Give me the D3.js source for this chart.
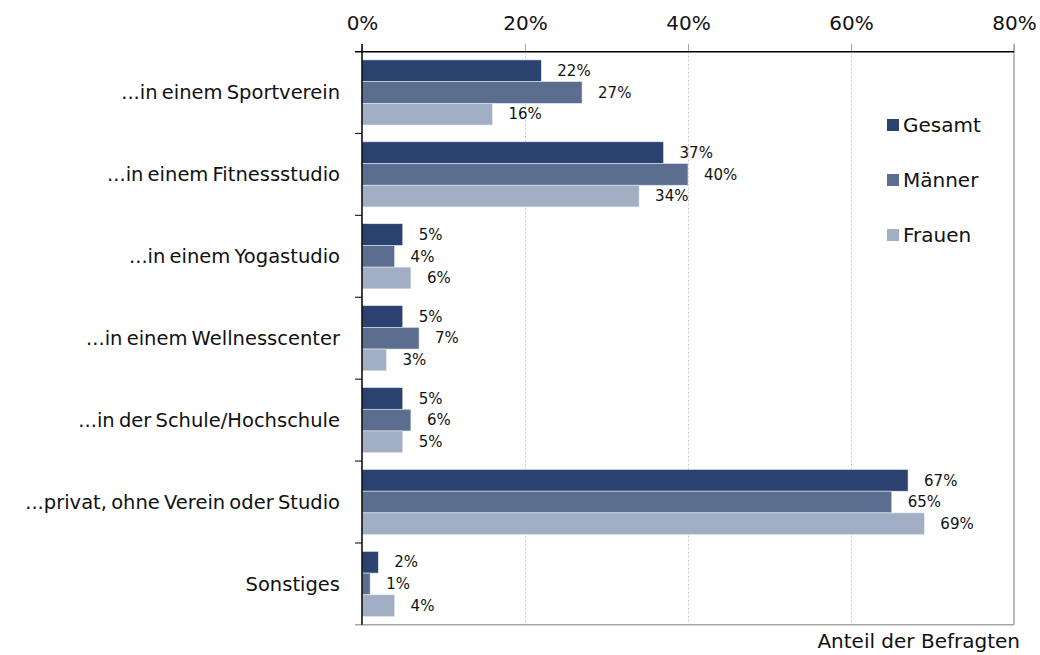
<!DOCTYPE html>
<html>
<head>
<meta charset="utf-8">
<script src="https://cdn.jsdelivr.net/npm/d3@7"></script>
<style>
  body { margin: 0; background: #fff; }
  text { font-family: "DejaVu Sans", "Liberation Sans", Arial, sans-serif; fill: #111; }
</style>
</head>
<body>
<div id="chart"></div>
<script>
// data
var categories = ["...in einem Sportverein", "...in einem Fitnessstudio", "...in einem Yogastudio",
    "...in einem Wellnesscenter", "...in der Schule/Hochschule", "...privat, ohne Verein oder Studio", "Sonstiges"];
var seriesNames = ["Gesamt", "Männer", "Frauen"];
var gesamt = [22, 37, 5, 5, 5, 67, 2];
var maenner = [27, 40, 4, 7, 6, 65, 1];
var frauen = [16, 34, 6, 3, 5, 69, 4];
var xTicks = [0, 20, 40, 60, 80];
var colors = ["#2b416f", "#5c6e8f", "#a1aec4"];

var allSeries = [gesamt, maenner, frauen];

var width = 1040, height = 655;
var svg = d3.select("#chart").append("svg")
    .attr("width", width)
    .attr("height", height);

// scales
var x = d3.scaleLinear().domain([0, 80]).range([362, 1014]);
var y = d3.scaleBand().domain(categories).range([51.7, 624.7]).paddingInner(0.205).paddingOuter(0.1);
var ySub = d3.scaleBand().domain(seriesNames).range([0, y.bandwidth()]);

// gridlines
svg.append("g")
    .selectAll("line")
    .data(xTicks.slice(1, -1))
    .enter().append("line")
    .attr("x1", d => x(d) + 0.5).attr("x2", d => x(d) + 0.5)
    .attr("y1", 51.7).attr("y2", 624.7)
    .attr("stroke", "#c8c8c8")
    .attr("stroke-dasharray", "2,2");

// right border and bottom line
svg.append("line")
    .attr("x1", x(80)).attr("x2", x(80))
    .attr("y1", 44).attr("y2", 624.7)
    .attr("stroke", "#a6a6a6").attr("stroke-width", 1.5);
svg.append("line")
    .attr("x1", 355).attr("x2", x(80))
    .attr("y1", 624.7).attr("y2", 624.7)
    .attr("stroke", "#a6a6a6").attr("stroke-width", 1.5);

// bars
var groups = svg.append("g").selectAll("g")
    .data(categories)
    .enter().append("g")
    .attr("transform", d => "translate(0," + y(d) + ")");

seriesNames.forEach(function (s, si) {
    groups.append("rect")
        .attr("x", x(0))
        .attr("y", ySub(s))
        .attr("width", (d, i) => x(allSeries[si][i]) - x(0))
        .attr("height", ySub.bandwidth())
        .attr("fill", colors[si])
        .attr("stroke", "#e4e8ef")
        .attr("stroke-width", 0.6);

    groups.append("text")
        .attr("x", (d, i) => x(allSeries[si][i]) + 16)
        .attr("y", ySub(s) + ySub.bandwidth() / 2)
        .attr("dy", "0.35em")
        .style("font-size", "15px")
        .text((d, i) => allSeries[si][i] + "%");
});

// top axis
var xAxis = svg.append("g")
    .attr("transform", "translate(0,51.7)")
    .call(d3.axisTop(x).tickValues(xTicks).tickFormat(d => d + "%").tickSize(8).tickPadding(14));
xAxis.select(".domain").remove();
xAxis.selectAll(".tick line").attr("stroke", "#a6a6a6");
xAxis.selectAll(".tick text")
    .style("font-size", "20px")
    .style("font-family", "DejaVu Sans, Liberation Sans, Arial, sans-serif")
    .attr("fill", "#111");
svg.append("line")
    .attr("x1", 355).attr("x2", x(80))
    .attr("y1", 51.7).attr("y2", 51.7)
    .attr("stroke", "#000").attr("stroke-width", 1.5);

// left axis: ticks at band boundaries
var boundaries = categories.map(c => y(c) - y.step() * y.paddingInner() / 2).slice(1);
svg.append("g").selectAll("line")
    .data(boundaries)
    .enter().append("line")
    .attr("x1", 355).attr("x2", x(0))
    .attr("y1", d => d).attr("y2", d => d)
    .attr("stroke", "#000");
svg.append("line")
    .attr("x1", x(0)).attr("x2", x(0))
    .attr("y1", 44).attr("y2", 624.7)
    .attr("stroke", "#000").attr("stroke-width", 1.5);

svg.append("g").selectAll("text")
    .data(categories)
    .enter().append("text")
    .attr("x", 340)
    .attr("y", d => y(d) + y.bandwidth() / 2)
    .attr("dy", "0.35em")
    .attr("text-anchor", "end")
    .style("font-size", "19.5px")
    .style("word-spacing", "-2px")
    .text(d => d);

// axis title
svg.append("text")
    .attr("x", 1020)
    .attr("y", 641)
    .attr("dy", "0.35em")
    .attr("text-anchor", "end")
    .style("font-size", "20px")
    .text("Anteil der Befragten");

// legend
var legend = svg.append("g").selectAll("g")
    .data(seriesNames)
    .enter().append("g")
    .attr("transform", (d, i) => "translate(887," + (125 + i * 55) + ")");
legend.append("rect")
    .attr("x", 0).attr("y", -6)
    .attr("width", 12).attr("height", 12)
    .attr("fill", (d, i) => colors[i]);
legend.append("text")
    .attr("x", 16).attr("y", 0)
    .attr("dy", "0.35em")
    .style("font-size", "20px")
    .text(d => d);
</script>
</body>
</html>
